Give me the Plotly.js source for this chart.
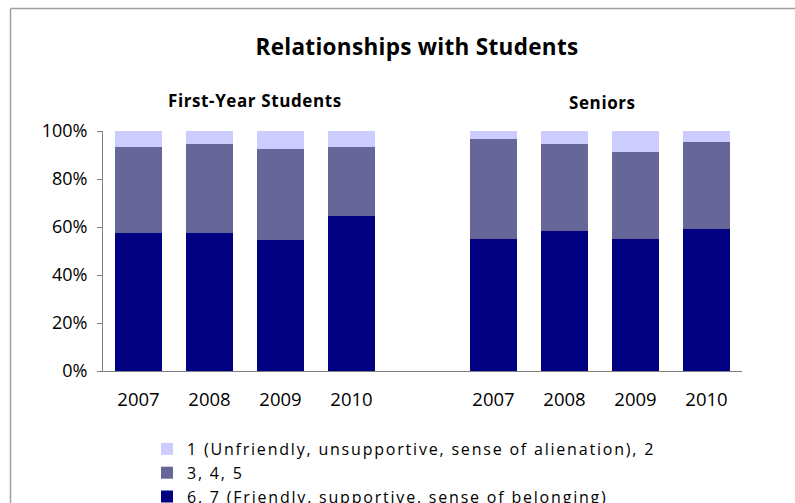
<!DOCTYPE html>
<html>
<head>
<meta charset="utf-8">
<script src="https://cdn.plot.ly/plotly-3.0.1.min.js"></script>
<style>
  html, body { margin: 0; padding: 0; background: #ffffff; }
  #chart { width: 795px; height: 503px; }
  .legendtext { letter-spacing: 1.8px; }
  .annotation-text { letter-spacing: 0.6px; }
  .gtitle { letter-spacing: 0.3px; }
</style>
</head>
<body>
<div id="chart"></div>
<script>
// Category positions: first group (First-Year Students), a blank slot, then Seniors
const xPositions = [0, 1, 2, 3, 5, 6, 7, 8];
const tickLabels = ["2007", "2008", "2009", "2010", "2007", "2008", "2009", "2010"];

const seriesNames = [
  "6, 7 (Friendly, supportive, sense of belonging)",
  "3, 4, 5",
  "1 (Unfriendly, unsupportive, sense of alienation), 2"
];

// Shares (fractions of 1)
const friendly    = [0.575, 0.575, 0.547, 0.647, 0.550, 0.583, 0.550, 0.590];
const middle      = [0.357, 0.372, 0.379, 0.285, 0.417, 0.364, 0.362, 0.365];
const unfriendly  = [0.068, 0.053, 0.074, 0.068, 0.033, 0.053, 0.088, 0.045];

const colors = ["#000080", "#666699", "#CCCCFF"];

const FONT = "Open Sans, Liberation Sans, sans-serif";

const traces = [friendly, middle, unfriendly].map((vals, i) => ({
  type: "bar",
  name: seriesNames[i],
  x: xPositions,
  y: vals,
  marker: { color: colors[i], line: { width: 0 } },
  hoverinfo: "skip"
}));

// pixel helpers for paper coordinates (plot area 103..742 x, 131..371 y)
const L = 103, R = 53, T = 131, B = 132, W = 795, H = 503;
const pw = W - L - R, ph = H - T - B;
const px = X => (X - L) / pw;
const py = Y => (H - B - Y) / ph;

const layout = {
  width: W, height: H,
  margin: { l: L, r: R, t: T, b: B, pad: 0, autoexpand: false },
  paper_bgcolor: "#ffffff",
  plot_bgcolor: "#ffffff",
  barmode: "stack",
  bargap: 0.35,
  showlegend: true,
  font: { family: FONT, color: "#000000", size: 17 },
  title: {
    text: "<b>Relationships with Students</b>",
    font: { family: FONT, size: 22.5, color: "#000000" },
    x: px(417), xref: "paper", xanchor: "center",
    y: 1 - 47 / H, yref: "container", yanchor: "middle"
  },
  xaxis: {
    range: [-0.5, 8.5],
    tickmode: "array",
    tickvals: xPositions,
    ticktext: tickLabels,
    tickangle: 0,
    ticks: "",
    showgrid: false,
    zeroline: false,
    showline: true,
    linecolor: "#808080",
    linewidth: 1,
    tickfont: { family: FONT, size: 18.5, color: "#000000" },
    ticklabelstandoff: 12,
    fixedrange: true
  },
  yaxis: {
    range: [0, 1],
    tickmode: "array",
    tickvals: [0, 0.2, 0.4, 0.6, 0.8, 1.0],
    ticktext: ["0%", "20%", "40%", "60%", "80%", "100%"],
    ticks: "outside",
    ticklen: 5,
    tickcolor: "#808080",
    tickwidth: 1,
    showgrid: false,
    zeroline: false,
    showline: true,
    linecolor: "#808080",
    linewidth: 1,
    tickfont: { family: FONT, size: 18, color: "#000000" },
    ticklabelstandoff: 6,
    fixedrange: true
  },
  legend: {
    orientation: "v",
    traceorder: "reversed",
    x: px(147), xref: "paper", xanchor: "left",
    y: py(432), yref: "paper", yanchor: "top",
    font: { family: FONT, size: 16, color: "#000000" },
    bgcolor: "rgba(0,0,0,0)",
    itemsizing: "constant",
    tracegroupgap: 0,
    itemwidth: 30
  },
  annotations: [
    {
      text: "<b>First-Year Students</b>",
      xref: "paper", yref: "paper",
      x: px(255), y: py(100),
      xanchor: "center", yanchor: "middle",
      showarrow: false,
      font: { family: FONT, size: 17, color: "#000000" }
    },
    {
      text: "<b>Seniors</b>",
      xref: "paper", yref: "paper",
      x: px(602), y: py(102),
      xanchor: "center", yanchor: "middle",
      showarrow: false,
      font: { family: FONT, size: 17, color: "#000000" }
    }
  ],
  shapes: [
    {
      type: "line", xref: "paper", yref: "paper",
      x0: px(10.5), x1: px(800), y0: py(8.5), y1: py(8.5),
      line: { color: "#a0a0a0", width: 1.5 }
    },
    {
      type: "line", xref: "paper", yref: "paper",
      x0: px(10.5), x1: px(10.5), y0: py(8.5), y1: py(510),
      line: { color: "#a0a0a0", width: 1.5 }
    }
  ]
};

Plotly.newPlot("chart", traces, layout, { staticPlot: true, displayModeBar: false });
</script>
</body>
</html>
